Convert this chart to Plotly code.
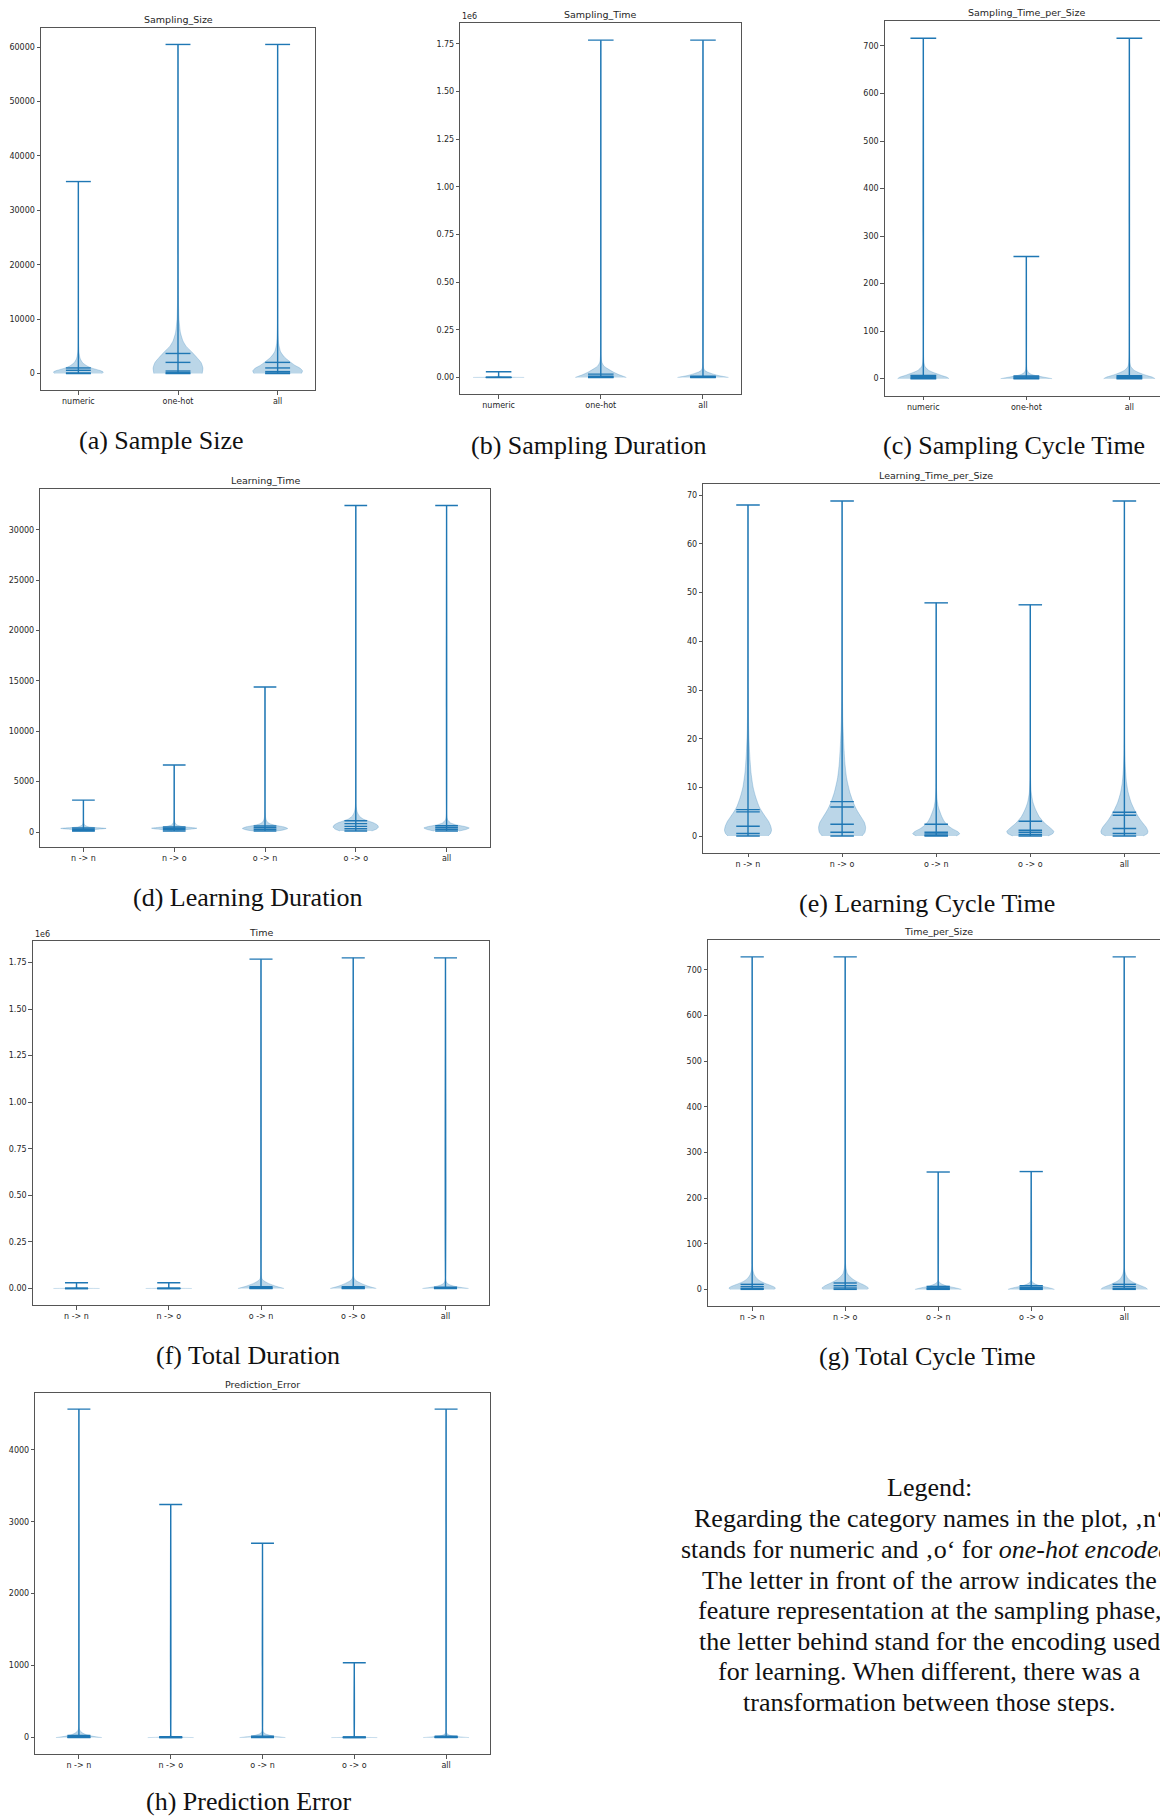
import plotly.graph_objects as go

W, H = 1160, 1816

# ---------------- data ----------------
CATS3 = ["numeric", "one-hot", "all"]
CATS5 = ["n -> n", "n -> o", "o -> n", "o -> o", "all"]

# (a) Sampling_Size
SIZE_MIN = [10, 10, 10]
SIZE_MAX = [35300, 60500, 60500]
SIZE_Q = [[1040, 610, 120], [3700, 2060, 470, 160], [2060, 1040, 370, 120]]
SIZE_PY = [[10, 300, 600, 1000, 1400, 2000, 2800, 4000, 6000, 35300],
           [10, 1000, 2000, 3000, 4000, 5000, 6000, 7500, 10000, 14000, 20000, 60500],
           [10, 500, 1000, 1500, 2000, 3000, 4000, 5500, 8000, 60500]]
SIZE_PW = [[0.95, 1.0, 0.85, 0.55, 0.35, 0.17, 0.07, 0.02, 0.005, 0],
           [0.97, 1.0, 0.93, 0.75, 0.55, 0.33, 0.2, 0.1, 0.04, 0.015, 0.004, 0],
           [0.95, 1.0, 0.9, 0.7, 0.55, 0.28, 0.12, 0.04, 0.01, 0]]

# (b) Sampling_Time
STIME_MIN = [0, 0, 0]
STIME_MAX = [30000, 1770000, 1770000]
STIME_Q = [[500, 300, 100], [17500, 6000, 1500], [6000, 3000, 1000]]
STIME_PY = [[0, 2000, 5000, 10000, 30000],
            [0, 5000, 15000, 30000, 45000, 60000, 80000, 120000, 1770000],
            [0, 5000, 10000, 20000, 30000, 40000, 60000, 1770000]]
STIME_PW = [[1.0, 0.2, 0.03, 0.01, 0],
            [1.0, 0.9, 0.7, 0.47, 0.28, 0.12, 0.04, 0.01, 0],
            [1.0, 0.8, 0.6, 0.35, 0.15, 0.05, 0.01, 0]]

# (c) Sampling_Time_per_Size
STPS_MIN = [0, 0, 0]
STPS_MAX = [716, 257, 716]
STPS_Q = [[7, 4.5, 2], [5.5, 3.5, 1.5], [6.5, 4, 2]]
STPS_PY = [[0, 3, 6, 10, 14, 18, 25, 35, 716],
           [0, 2, 4, 6, 9, 13, 20, 257],
           [0, 3, 6, 10, 14, 18, 25, 35, 716]]
STPS_PW = [[1.0, 0.92, 0.75, 0.55, 0.35, 0.2, 0.07, 0.02, 0],
           [1.0, 0.8, 0.6, 0.4, 0.2, 0.08, 0.02, 0],
           [1.0, 0.9, 0.72, 0.5, 0.32, 0.18, 0.06, 0.02, 0]]

# (d) Learning_Time
LTIME_MIN = [100, 100, 100, 100, 100]
LTIME_MAX = [3170, 6650, 14400, 32400, 32400]
LTIME_Q = [[400, 270, 140], [500, 380, 250], [600, 420, 250], [1120, 830, 560, 330], [630, 450, 280]]
LTIME_PY = [[100, 200, 300, 360, 420, 500, 700, 1000, 3170],
            [100, 200, 300, 380, 450, 550, 700, 900, 1200, 6650],
            [100, 200, 350, 500, 650, 800, 1000, 1300, 1800, 14400],
            [100, 300, 500, 700, 900, 1100, 1300, 1600, 2000, 2500, 3500, 32400],
            [100, 250, 400, 550, 700, 900, 1200, 1600, 32400]]
LTIME_PW = [[0.1, 0.3, 0.75, 1.0, 0.7, 0.25, 0.05, 0.01, 0],
            [0.1, 0.35, 0.8, 1.0, 0.75, 0.35, 0.12, 0.04, 0.01, 0],
            [0.5, 0.8, 1.0, 0.85, 0.5, 0.25, 0.1, 0.04, 0.01, 0],
            [0.7, 0.92, 1.0, 0.95, 0.8, 0.55, 0.32, 0.15, 0.06, 0.02, 0.005, 0],
            [0.55, 0.85, 1.0, 0.8, 0.45, 0.18, 0.05, 0.01, 0]]

# (e) Learning_Time_per_Size
LTPS_MIN = [0.05, 0.05, 0.05, 0.05, 0.05]
LTPS_MAX = [68.0, 68.8, 47.9, 47.5, 68.8]
LTPS_Q = [[5.46, 4.99, 2.05, 0.55], [7.1, 6.0, 2.46, 0.82], [2.46, 0.82, 0.48, 0.2],
          [3.07, 1.23, 0.82, 0.34], [4.92, 4.3, 1.57, 0.55]]
LTPS_PY = [[0.05, 0.5, 1.2, 2, 3, 4, 5, 6, 8, 10, 13, 17, 22, 30, 68.0],
           [0.05, 0.8, 1.8, 2.8, 4, 5, 6, 7, 9, 12, 15, 19, 24, 32, 68.8],
           [0.05, 0.5, 1.0, 1.5, 2, 2.5, 3, 4, 5, 6, 7.5, 10, 47.9],
           [0.05, 0.5, 1.0, 1.5, 2, 2.5, 3, 4, 5, 6, 7, 9, 12, 47.5],
           [0.05, 0.5, 1.0, 1.8, 2.6, 3.5, 4.5, 5.5, 7, 9, 11, 14, 18, 68.8]]
LTPS_PW = [[0.85, 0.95, 1.0, 0.97, 0.88, 0.74, 0.6, 0.48, 0.33, 0.22, 0.13, 0.07, 0.03, 0.01, 0],
           [0.85, 0.97, 1.0, 0.95, 0.8, 0.67, 0.56, 0.47, 0.33, 0.19, 0.12, 0.07, 0.03, 0.01, 0],
           [0.85, 1.0, 0.9, 0.7, 0.55, 0.44, 0.35, 0.24, 0.16, 0.09, 0.04, 0.01, 0],
           [0.75, 0.95, 1.0, 0.9, 0.78, 0.65, 0.55, 0.38, 0.27, 0.18, 0.11, 0.04, 0.01, 0],
           [0.8, 0.97, 1.0, 0.93, 0.8, 0.66, 0.53, 0.42, 0.28, 0.16, 0.09, 0.04, 0.01, 0]]

# (f) Time
TIME_MIN = [0, 0, 0, 0, 0]
TIME_MAX = [30500, 30500, 1768000, 1775000, 1775000]
TIME_Q = [[600, 400, 200], [600, 400, 200], [10000, 5000, 2000], [10000, 5000, 2000], [7000, 3500, 1500]]
TIME_PY = [[0, 1000, 3000, 8000, 30500],
           [0, 1000, 3000, 8000, 30500],
           [0, 5000, 10000, 20000, 30000, 40000, 50000, 70000, 1768000],
           [0, 5000, 10000, 20000, 30000, 40000, 50000, 70000, 1775000],
           [0, 5000, 10000, 15000, 20000, 30000, 45000, 1775000]]
TIME_PW = [[1.0, 0.3, 0.05, 0.01, 0],
           [1.0, 0.3, 0.05, 0.01, 0],
           [1.0, 0.85, 0.7, 0.47, 0.28, 0.14, 0.05, 0.01, 0],
           [1.0, 0.85, 0.7, 0.48, 0.3, 0.15, 0.06, 0.01, 0],
           [1.0, 0.7, 0.45, 0.3, 0.18, 0.06, 0.01, 0]]

# (g) Time_per_Size
TPS_MIN = [0, 0, 0, 0, 0]
TPS_MAX = [728, 728, 257, 258, 728]
TPS_Q = [[11, 6, 2], [14, 8, 3], [6.5, 3.5, 1.5], [8, 4.5, 2], [11, 6, 2]]
TPS_PY = [[0, 3, 6, 10, 14, 18, 24, 32, 42, 55, 728],
          [0, 3, 7, 11, 15, 20, 26, 34, 45, 60, 728],
          [0, 2, 4, 6, 8, 11, 15, 20, 257],
          [0, 2, 4, 6, 8, 11, 15, 20, 258],
          [0, 3, 6, 10, 14, 18, 24, 32, 42, 55, 728]]
TPS_PW = [[0.95, 1.0, 0.92, 0.72, 0.52, 0.36, 0.2, 0.09, 0.03, 0.01, 0],
          [0.95, 1.0, 0.9, 0.75, 0.58, 0.4, 0.24, 0.1, 0.04, 0.01, 0],
          [1.0, 0.85, 0.68, 0.5, 0.34, 0.18, 0.06, 0.01, 0],
          [1.0, 0.88, 0.72, 0.55, 0.38, 0.2, 0.07, 0.01, 0],
          [1.0, 0.95, 0.82, 0.62, 0.45, 0.3, 0.16, 0.07, 0.02, 0.005, 0]]

# (h) Prediction_Error
PERR_MIN = [0, 0, 0, 0, 0]
PERR_MAX = [4565, 3240, 2700, 1040, 4565]
PERR_Q = [[28, 14, 5], [12, 6, 2], [20, 10, 4], [8, 4, 1], [18, 9, 3]]
PERR_PY = [[0, 10, 25, 40, 60, 80, 110, 150, 4565],
           [0, 5, 12, 20, 30, 3240],
           [0, 10, 20, 35, 50, 70, 100, 2700],
           [0, 3, 8, 15, 1040],
           [0, 8, 15, 25, 40, 55, 80, 4565]]
PERR_PW = [[1.0, 0.75, 0.5, 0.32, 0.18, 0.09, 0.03, 0.005, 0],
           [1.0, 0.5, 0.15, 0.04, 0.01, 0],
           [1.0, 0.7, 0.48, 0.28, 0.14, 0.05, 0.01, 0],
           [1.0, 0.4, 0.1, 0.02, 0],
           [1.0, 0.65, 0.45, 0.25, 0.1, 0.04, 0.01, 0]]

# tick values
TICKS_SIZE = [0, 10000, 20000, 30000, 40000, 50000, 60000]
TICKS_1E6 = [0, 250000, 500000, 750000, 1000000, 1250000, 1500000, 1750000]
TICKS_700 = [0, 100, 200, 300, 400, 500, 600, 700]
TICKS_LTIME = [0, 5000, 10000, 15000, 20000, 25000, 30000]
TICKS_70 = [0, 10, 20, 30, 40, 50, 60, 70]
TICKS_PERR = [0, 1000, 2000, 3000, 4000]

CAPTIONS = ["(a) Sample Size", "(b) Sampling Duration", "(c) Sampling Cycle Time",
            "(d) Learning Duration", "(e) Learning Cycle Time", "(f) Total Duration",
            "(g) Total Cycle Time", "(h) Prediction Error"]

LEGEND_LINES = ["Legend:",
                "Regarding the category names in the plot, \u201an\u2018",
                "stands for numeric and \u201ao\u2018 for <i>one-hot encoded</i>.",
                "The letter in front of the arrow indicates the",
                "feature representation at the sampling phase,",
                "the letter behind stand for the encoding used",
                "for learning. When different, there was a",
                "transformation between those steps."]

# ---------------- styles / layout positions (pixels) ----------------
BLUE = "#1f77b4"
FILL = "rgba(31,119,180,0.30)"
SPINE = "#555555"
TXT = "#262626"
SANS = "DejaVu Sans"
SERIF = "Liberation Serif"

# box: left, right (full, may exceed page), top, bottom ; caption centre
PANELS = [
    dict(title="Sampling_Size", cats=CATS3, mn=SIZE_MIN, mx=SIZE_MAX, q=SIZE_Q, py=SIZE_PY, pw=SIZE_PW,
         ticks=TICKS_SIZE, scale=1, fmt="{:.0f}", box=(41, 315, 28, 390), cap=(161, 440)),
    dict(title="Sampling_Time", cats=CATS3, mn=STIME_MIN, mx=STIME_MAX, q=STIME_Q, py=STIME_PY, pw=STIME_PW,
         ticks=TICKS_1E6, scale=1e6, fmt="{:.2f}", box=(460.3, 741.3, 23.3, 394.3), cap=(588, 445)),
    dict(title="Sampling_Time_per_Size", cats=CATS3, mn=STPS_MIN, mx=STPS_MAX, q=STPS_Q, py=STPS_PY, pw=STPS_PW,
         ticks=TICKS_700, scale=1, fmt="{:.0f}", box=(884.7, 1168, 21.3, 395.7), cap=(1014, 446)),
    dict(title="Learning_Time", cats=CATS5, mn=LTIME_MIN, mx=LTIME_MAX, q=LTIME_Q, py=LTIME_PY, pw=LTIME_PW,
         ticks=TICKS_LTIME, scale=1, fmt="{:.0f}", box=(40.3, 489.7, 489.3, 847.3), cap=(248, 897)),
    dict(title="Learning_Time_per_Size", cats=CATS5, mn=LTPS_MIN, mx=LTPS_MAX, q=LTPS_Q, py=LTPS_PY, pw=LTPS_PW,
         ticks=TICKS_70, scale=1, fmt="{:.0f}", box=(703.3, 1169.1, 484.3, 852.7), cap=(927, 903)),
    dict(title="Time", cats=CATS5, mn=TIME_MIN, mx=TIME_MAX, q=TIME_Q, py=TIME_PY, pw=TIME_PW,
         ticks=TICKS_1E6, scale=1e6, fmt="{:.2f}", box=(32.7, 489.3, 941.3, 1305), cap=(248, 1355)),
    dict(title="Time_per_Size", cats=CATS5, mn=TPS_MIN, mx=TPS_MAX, q=TPS_Q, py=TPS_PY, pw=TPS_PW,
         ticks=TICKS_700, scale=1, fmt="{:.0f}", box=(708, 1168.4, 940.3, 1306), cap=(927, 1356)),
    dict(title="Prediction_Error", cats=CATS5, mn=PERR_MIN, mx=PERR_MAX, q=PERR_Q, py=PERR_PY, pw=PERR_PW,
         ticks=TICKS_PERR, scale=1, fmt="{:.0f}", box=(35.3, 489.7, 1392.7, 1754), cap=(248, 1801)),
]
LEGEND_X = 929
LEGEND_Y = [1487, 1518, 1549, 1580, 1610, 1641, 1671, 1702]

fig = go.Figure()
annotations = []
layout_axes = {}

for k, P in enumerate(PANELS, start=1):
    xa = "x" if k == 1 else f"x{k}"
    ya = "y" if k == 1 else f"y{k}"
    n = len(P["cats"])
    pos = list(range(1, n + 1))
    xl = 0.75 - 0.05 * (n - 0.5)
    xr = n + 0.25 + 0.05 * (n - 0.5)
    left, right_full, top, bottom = P["box"]
    cut = right_full > W
    right = min(right_full, W)
    xr_vis = xl + (right - left) / (right_full - left) * (xr - xl)
    lo_d, hi_d = min(P["mn"]), max(P["mx"])
    span = hi_d - lo_d
    yr = [lo_d - 0.05 * span, hi_d + 0.05 * span]

    # violin bodies
    for i, p in enumerate(pos):
        ys, ws = P["py"][i], P["pw"][i]
        xs = [p + 0.25 * w for w in ws] + [p - 0.25 * w for w in reversed(ws)]
        yy = list(ys) + list(reversed(ys))
        fig.add_trace(go.Scatter(
            x=xs, y=yy, fill="toself", fillcolor=FILL, mode="lines",
            line=dict(color="rgba(31,119,180,0.30)", width=0.8, shape="spline", smoothing=0.6),
            xaxis=xa, yaxis=ya, hoverinfo="skip", showlegend=False))

    # extrema bars, caps and quantile lines
    lx, ly = [], []
    for i, p in enumerate(pos):
        lx += [p, p, None]
        ly += [P["mn"][i], P["mx"][i], None]
        for v in [P["mn"][i], P["mx"][i]] + list(P["q"][i]):
            lx += [p - 0.125, p + 0.125, None]
            ly += [v, v, None]
    fig.add_trace(go.Scatter(x=lx, y=ly, mode="lines", line=dict(color=BLUE, width=1.4),
                             xaxis=xa, yaxis=ya, hoverinfo="skip", showlegend=False))

    axis_common = dict(showline=True, linecolor=SPINE, linewidth=1, ticks="outside", ticklen=3.5,
                       tickwidth=1, tickcolor=SPINE, showgrid=False, zeroline=False,
                       tickfont=dict(family=SANS, size=8, color=TXT), fixedrange=True)
    layout_axes["xaxis" + ("" if k == 1 else str(k))] = dict(
        domain=[left / W, right / W], range=[xl, xr_vis], anchor=ya,
        tickmode="array", tickvals=pos, ticktext=P["cats"], mirror=True, **axis_common)
    layout_axes["yaxis" + ("" if k == 1 else str(k))] = dict(
        domain=[1 - bottom / H, 1 - top / H], range=yr, anchor=xa,
        tickmode="array", tickvals=P["ticks"],
        ticktext=[P["fmt"].format(t / P["scale"]) for t in P["ticks"]],
        mirror=not cut, **axis_common)

    # title
    annotations.append(dict(text=P["title"], x=(left + right_full) / 2 / W, y=1 - (top - 1) / H,
                            xref="paper", yref="paper", xanchor="center", yanchor="bottom",
                            showarrow=False, font=dict(family=SANS, size=9.5, color=TXT)))
    if P["scale"] != 1:
        annotations.append(dict(text="1e6", x=left / W, y=1 - (top - 0.5) / H, xref="paper", yref="paper",
                                xanchor="left", yanchor="bottom", showarrow=False,
                                font=dict(family=SANS, size=8, color=TXT)))
    # caption
    annotations.append(dict(text=CAPTIONS[k - 1], x=P["cap"][0] / W, y=1 - P["cap"][1] / H,
                            xref="paper", yref="paper", xanchor="center", yanchor="middle",
                            showarrow=False, font=dict(family=SERIF, size=26, color="#111111")))

for line, yy in zip(LEGEND_LINES, LEGEND_Y):
    annotations.append(dict(text=line, x=LEGEND_X / W, y=1 - yy / H, xref="paper", yref="paper",
                            xanchor="center", yanchor="middle", showarrow=False,
                            font=dict(family=SERIF, size=26, color="#111111")))

fig.update_layout(width=W, height=H, margin=dict(l=0, r=0, t=0, b=0),
                  paper_bgcolor="white", plot_bgcolor="white", showlegend=False,
                  annotations=annotations, **layout_axes)

fig.write_html("out.html")
